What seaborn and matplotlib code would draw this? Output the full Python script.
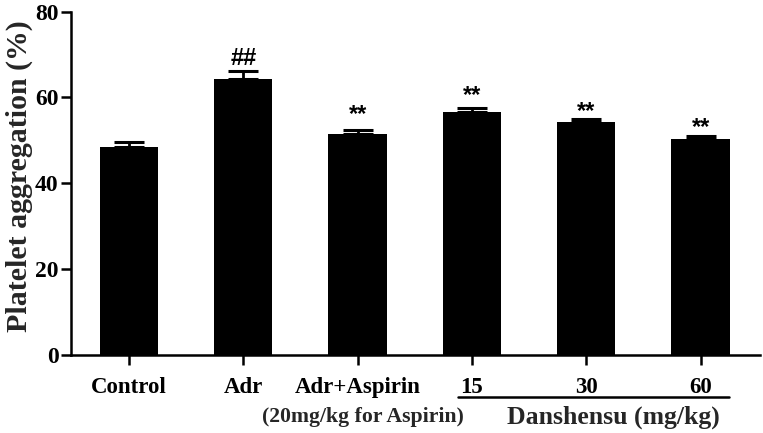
import matplotlib
matplotlib.use("Agg")
import matplotlib.pyplot as plt
import seaborn as sns
import numpy as np
import pandas as pd

# ---- data ----
categories = ["Control", "Adr", "Adr+Aspirin", "15", "30", "60"]
values = [48.5, 64.3, 51.4, 56.5, 54.2, 50.3]
errors = [1.1, 1.8, 1.1, 1.1, 0.8, 0.8]
annotations = ["", "##", "**", "**", "**", "**"]
annot_y = [0, 67.6, 54.5, 58.9, 55.2, 51.5]
yticks = [0, 20, 40, 60, 80]

sns.set_theme(style="ticks")
plt.rcParams["font.family"] = ["Liberation Serif", "DejaVu Serif"]
plt.rcParams["font.weight"] = "bold"

df = pd.DataFrame({"group": categories, "value": values})

fig = plt.figure(figsize=(7.63, 4.33), dpi=100)
ax = fig.add_axes([0.0931, 0.180, 0.903, 0.7934])

sns.barplot(data=df, x="group", y="value", order=categories, color="black",
            width=0.51, edgecolor="black", linewidth=0, errorbar=None,
            saturation=1, ax=ax)

xpos = np.arange(len(categories))
ax.errorbar(xpos, values, yerr=[np.zeros(len(values)), errors], fmt="none",
            ecolor="black", elinewidth=2.0, capsize=10.5, capthick=2.2, zorder=3)

for x, lab, y in zip(xpos, annotations, annot_y):
    if lab:
        ax.text(x, y, lab, ha="center", va="baseline", fontsize=17,
                family=["Liberation Sans", "DejaVu Sans"], fontweight="bold",
                color="black")

ax.set_xlim(-0.507, 5.52)
ax.set_ylim(0, 80)
ax.set_yticks(yticks)
ax.set_yticklabels([str(t) for t in yticks], fontsize=17, fontweight="bold")
ax.set_xticks(xpos)
ax.set_xticklabels(categories, fontsize=16.5, fontweight="bold")
ax.set_xlabel("")
ax.set_ylabel("Platelet aggregation (%)", fontsize=21.5, fontweight="bold")
ax.yaxis.set_label_coords(-0.055, 0.52)

for s in ["top", "right"]:
    ax.spines[s].set_visible(False)
for s in ["left", "bottom"]:
    ax.spines[s].set_linewidth(1.8)
    ax.spines[s].set_color("black")
ax.tick_params(axis="both", length=7, width=1.8, color="black", labelcolor="black")
ax.tick_params(axis="x", pad=9)
ax.tick_params(axis="y", pad=2)

# Danshensu group underline and labels
tr = ax.get_xaxis_transform()
ax.plot([2.88, 5.25], [-0.122, -0.122], color="black", lw=1.8,
        transform=tr, clip_on=False)
ax.text(4.24, -0.18, "Danshensu (mg/kg)", transform=tr, ha="center", va="center",
        fontsize=18.5, fontweight="bold")
ax.text(2.05, -0.18, "(20mg/kg for Aspirin)", transform=tr, ha="center", va="center",
        fontsize=15.7, fontweight="bold")

fig.savefig("out.png", dpi=100, facecolor="white")
